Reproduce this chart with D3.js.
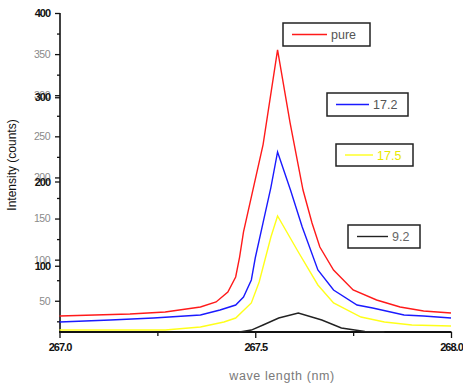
<!DOCTYPE html>
<html>
<head>
<meta charset="utf-8">
<script src="https://cdn.jsdelivr.net/npm/d3@7"></script>
<style>
  body { margin: 0; background: #fff; }
  text { font-family: "Liberation Sans", Arial, sans-serif; }
</style>
</head>
<body>
<svg id="chart" width="463" height="385"></svg>
<script>
// data
var seriesNames = ["pure", "17.2", "17.5", "9.2"];
var seriesColors = ["#ff1a1a", "#1a1aff", "#ffff1a", "#222222"];

var pureW = [267.00, 267.09, 267.18, 267.27, 267.36, 267.40, 267.43, 267.45, 267.46, 267.47, 267.52, 267.557, 267.589, 267.622, 267.645, 267.665, 267.70, 267.75, 267.81, 267.87, 267.93, 268.00];
var pureI = [31.5, 32.7, 33.9, 36.3, 42.4, 48.5, 60.7, 78.9, 103.2, 133.7, 240, 355.1, 266.3, 184.7, 144.6, 115.4, 87.4, 63.1, 50.9, 42.4, 37.5, 35.1];

var s172W = [267.00, 267.13, 267.24, 267.36, 267.41, 267.45, 267.47, 267.49, 267.50, 267.52, 267.54, 267.557, 267.59, 267.62, 267.66, 267.70, 267.76, 267.80, 267.88, 267.93, 268.00];
var s172I = [24.2, 26.6, 29.0, 32.7, 38.8, 44.8, 54.6, 75.3, 102, 145, 188, 231, 184.8, 139.7, 87.4, 63.1, 44.8, 41.2, 32.7, 31.5, 29.0];

var s175W = [267.00, 267.27, 267.33, 267.36, 267.42, 267.45, 267.49, 267.51, 267.54, 267.557, 267.61, 267.66, 267.70, 267.77, 267.83, 267.90, 268.00];
var s175I = [14.4, 14.4, 16.9, 18.1, 24.2, 29.0, 47.3, 72.8, 127.6, 153.1, 109.3, 69.2, 47.3, 30.2, 24.2, 20.5, 19.3];

var s92W = [267.46, 267.49, 267.52, 267.56, 267.61, 267.67, 267.72, 267.78, 267.83];
var s92I = [12, 14.4, 20.5, 29.0, 35.1, 26.6, 16.9, 12.6, 12];

var xTicks = [267.0, 267.5, 268.0];
var xMinor = [267.25, 267.75];
var yTicksGray = [50, 100, 150, 200, 250, 300, 350];
var yTicksBlack = [100, 200, 300, 400];
var yMinor = [25, 75, 125, 175, 225, 275, 325, 375];

var allW = [pureW, s172W, s175W, s92W];
var allI = [pureI, s172I, s175I, s92I];

var svg = d3.select("#chart")

var x = d3.scaleLinear().domain([267, 268]).range([59.5, 451]);
var y = d3.scaleLinear().domain([12, 400]).range([332, 13]);
// second (overlaid) scale of the original plot, slightly off
var y2 = d3.scaleLinear().domain([0, 400]).range([350, 13]);

// y axis, gray labels
var gy = svg.append("g")
    .attr("transform", "translate(60,0)")
    .call(d3.axisLeft(y).tickValues(yTicksGray).tickSize(5).tickPadding(5).tickSizeOuter(0))
gy.select(".domain").remove()
gy.selectAll("line").attr("stroke", "#111").attr("stroke-width", 1.3)
gy.selectAll("text").attr("fill", "#8a8a8a").style("font-size", "10.5px").attr("letter-spacing", "-0.5px")

var gyMinor = svg.append("g")
    .attr("transform", "translate(60,0)")
    .call(d3.axisLeft(y).tickValues(yMinor).tickSize(3).tickFormat("").tickSizeOuter(0))
gyMinor.select(".domain").remove()
gyMinor.selectAll("line").attr("stroke", "#111").attr("stroke-width", 1.3)

// y axis, black bold labels
var gy2 = svg.append("g")
    .attr("transform", "translate(60,0)")
    .call(d3.axisLeft(y2).tickValues(yTicksBlack).tickSize(5).tickPadding(5).tickSizeOuter(0))
gy2.select(".domain").remove()
gy2.selectAll("line").attr("stroke", "#111").attr("stroke-width", 1.3)
gy2.selectAll("text").attr("fill", "#111").style("font-size", "11px").style("font-weight", "bold").attr("letter-spacing", "-1px")

svg.append("line")
    .attr("x1", 60).attr("x2", 60)
    .attr("y1", y(400)).attr("y2", y(12) + 1)
    .attr("stroke", "#111").attr("stroke-width", 1.6)

// x axis
var gx = svg.append("g")
    .attr("transform", "translate(0,332)")
    .call(d3.axisBottom(x).tickValues(xTicks).tickSize(6).tickPadding(5).tickSizeOuter(0).tickFormat(d3.format(".1f")))
gx.select(".domain").remove()
gx.selectAll("line").attr("stroke", "#111").attr("stroke-width", 1.3)
gx.selectAll("text").attr("fill", "#111").style("font-size", "11px").style("font-weight", "bold").attr("letter-spacing", "-1px")

var gxMinor = svg.append("g")
    .attr("transform", "translate(0,332)")
    .call(d3.axisBottom(x).tickValues(xMinor).tickSize(4).tickFormat("").tickSizeOuter(0))
gxMinor.select(".domain").remove()
gxMinor.selectAll("line").attr("stroke", "#111").attr("stroke-width", 1.3)

svg.append("line")
    .attr("x1", x(267) - 0.5).attr("x2", x(268) + 0.5)
    .attr("y1", 332).attr("y2", 332)
    .attr("stroke", "#111").attr("stroke-width", 2)

// axis titles
svg.append("text")
    .attr("transform", "translate(16,165) rotate(-90)")
    .attr("text-anchor", "middle")
    .style("font-size", "12px")
    .attr("fill", "#111")
    .text("Intensity (counts)")

svg.append("text")
    .attr("x", 282).attr("y", 380)
    .attr("text-anchor", "middle")
    .style("font-size", "12.5px")
    .attr("letter-spacing", "0.6px")
    .attr("fill", "#7a7a7a")
    .text("wave length (nm)")

// lines
var line = d3.line()
    .x(function(d){ return x(d[0]); })
    .y(function(d){ return y(d[1]); });

for (var k = allW.length - 1; k >= 0; k--) {
    var pts = allW[k].map(function(w, i){ return [w, allI[k][i]]; });
    svg.append("path")
        .datum(pts)
        .attr("d", line)
        .attr("fill", "none")
        .attr("stroke", seriesColors[k])
        .attr("stroke-width", 1.4)
}

// legend boxes (separate, as in the original)
var legendBoxes = [
    {x: 283, y: 23, w: 87, h: 23, tx: 331, text: "#555"},
    {x: 327, y: 93, w: 81, h: 23, tx: 373, text: "#555"},
    {x: 336, y: 144, w: 77, h: 22, tx: 377, text: "#e8e800"},
    {x: 348, y: 225, w: 72, h: 23, tx: 392, text: "#666"}
];

legendBoxes.forEach(function(b, i) {
    var g = svg.append("g")
    g.append("rect")
        .attr("x", b.x).attr("y", b.y)
        .attr("width", b.w).attr("height", b.h)
        .attr("fill", "#fff")
        .attr("stroke", "#222")
        .attr("stroke-width", 1.5)
    g.append("line")
        .attr("x1", b.x + 9).attr("x2", b.tx - 4)
        .attr("y1", b.y + b.h / 2).attr("y2", b.y + b.h / 2)
        .attr("stroke", seriesColors[i])
        .attr("stroke-width", 1.4)
    g.append("text")
        .attr("x", b.tx).attr("y", b.y + b.h / 2 + 4.5)
        .style("font-size", "12.5px")
        .attr("fill", b.text)
        .text(seriesNames[i])
})
</script>
</body>
</html>
